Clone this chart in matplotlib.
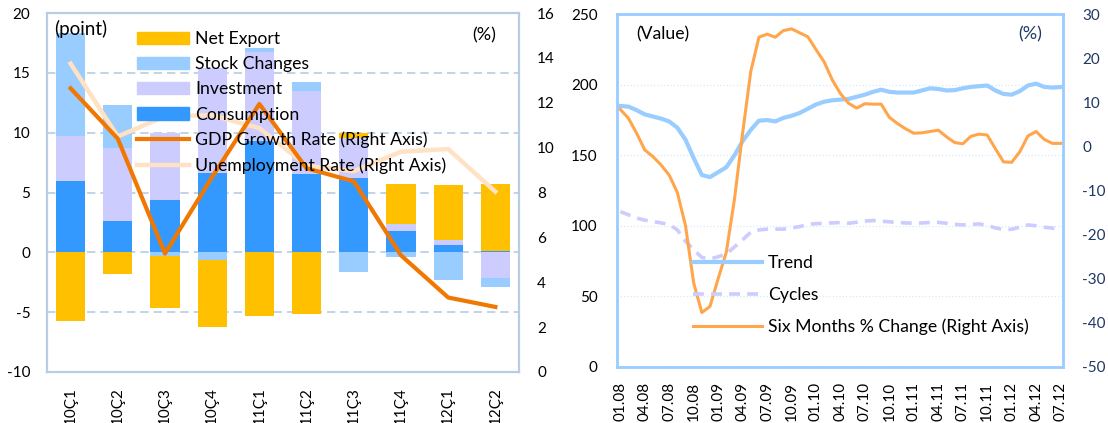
import numpy as np
import pandas as pd
import matplotlib
matplotlib.use('Agg')
import matplotlib.pyplot as plt
from matplotlib.patches import Patch
from matplotlib.lines import Line2D

plt.rcParams['font.family'] = ['Lato', 'DejaVu Sans']
plt.rcParams['axes.unicode_minus'] = False

# left panel: contributions to growth (points) and rates (%)
quarters = ['10Ç1', '10Ç2', '10Ç3', '10Ç4', '11Ç1', '11Ç2', '11Ç3', '11Ç4', '12Ç1', '12Ç2']
consumption = [6.0, 2.65, 4.4, 6.6, 9.3, 6.55, 6.2, 1.75, 0.6, 0.08]
investment = [3.7, 6.05, 5.6, 8.8, 7.45, 6.95, 3.4, 0.65, 0.45, -2.15]
stock_changes = [8.6, 3.6, -0.3, -0.6, 0.35, 0.75, -1.6, -0.4, -2.35, -0.75]
net_export = [-5.75, -1.85, -4.35, -5.6, -5.3, -5.15, 0.35, 3.35, 4.55, 5.65]
gdp_growth = [12.65, 10.4, 5.28, 8.7, 11.95, 9.08, 8.5, 5.2, 3.32, 2.9]
unemployment = [13.75, 10.5, 11.4, 11.45, 10.87, 9.2, 8.95, 9.82, 9.94, 8.04]

# right panel: monthly index, 01.08 - 07.12
months = pd.date_range('2008-01-01', '2012-07-01', freq='MS')
month_labels = [d.strftime('%m.%y') for d in months]
trend = [185, 184.5, 182, 179, 177.5, 176, 174, 169.5, 161, 148,
         136, 134.5, 138, 141.5, 150, 160, 168, 174.5, 175, 174,
         176.5, 178, 180, 183, 186, 188, 189, 189.5, 190, 191.5,
         193, 195, 196.5, 195, 194.5, 194.5, 194.5, 196, 197.5, 197,
         196, 196.2, 197.5, 198.5, 199, 199.5, 196, 193.5, 193, 195.5,
         199.5, 200.8, 198.5, 198, 198.4]
cycles = [110, 107.8, 105.5, 104, 103, 102, 101, 97, 89, 83,
          77.5, 76.5, 78, 80, 85, 90, 95.5, 97, 97.6, 97.6,
          97.6, 98.5, 99.4, 101, 101.5, 101.8, 102, 102.3, 101.8, 102.5,
          103.3, 103.7, 103.2, 102.8, 102.3, 102, 101.8, 102, 102.3, 102.4,
          101.8, 101, 100.6, 101, 101.3, 100.2, 98.5, 97.3, 97.5, 99,
          100.6, 100, 99, 98.3, 97.8]
six_month_change = [8.4, 6.4, 3, -0.8, -2.3, -4.2, -6.5, -10.5, -18, -31,
                    -37.7, -36.3, -30, -24, -12, 3, 17, 24.8, 25.5, 24.8,
                    26.3, 26.7, 25.8, 24.9, 22, 19.2, 15.1, 12, 9.8, 8.7,
                    9.7, 9.6, 9.6, 6.6, 5.2, 4, 3, 3.1, 3.4, 3.7,
                    2.2, 0.9, 0.6, 2.3, 2.8, 2.6, -0.5, -3.5, -3.6, -1.2,
                    2.4, 3.4, 1.6, 0.7, 0.7]

c_cons = '#3399FF'
c_inv = '#CCCCFF'
c_stock = '#99CCFF'
c_net = '#FFC000'
c_gdp = '#F07800'
c_unemp = '#FFE1C4'
c_trend = '#99CCFF'
c_cyc = '#CCCCFF'
c_six = '#FFA64D'
frame_l = '#B8CCE4'
navy = '#1F3864'

fig = plt.figure(figsize=(11.08, 4.23), dpi=100)

# ---------------- left panel ----------------
ax = fig.add_axes([0.0424, 0.1206, 0.4260, 0.8484])
x = np.arange(len(quarters))
pos = np.zeros(len(quarters))
neg = np.zeros(len(quarters))
for vals, col in [(consumption, c_cons), (investment, c_inv),
                  (stock_changes, c_stock), (net_export, c_net)]:
    v = np.array(vals)
    bottom = np.where(v >= 0, pos, neg)
    ax.bar(x, v, 0.62, bottom=bottom, color=col, zorder=2)
    pos = pos + np.where(v >= 0, v, 0)
    neg = neg + np.where(v < 0, v, 0)

ax.set_xlim(-0.5, 9.5)
ax.set_ylim(-10, 20)
ax.set_yticks(range(-10, 21, 5))
ax.set_xticks(x)
ax.set_xticklabels(quarters, rotation=90, fontsize=10)
ax.set_axisbelow(True)
ax.yaxis.grid(True, color=frame_l, linestyle=(0, (5, 3)), linewidth=1.2)
ax.tick_params(axis='both', length=0, labelsize=11)
ax.tick_params(axis='y', pad=12)
ax.tick_params(axis='x', pad=11)
for s in ax.spines.values():
    s.set_color(frame_l)
    s.set_linewidth(1.6)

ax2 = ax.twinx()
ax2.plot(x, unemployment, color=c_unemp, linewidth=3.2, zorder=3)
ax2.plot(x, gdp_growth, color=c_gdp, linewidth=3.0, zorder=4)
ax2.set_ylim(0, 16)
ax2.set_yticks(range(0, 17, 2))
ax2.tick_params(axis='y', length=0, labelsize=11, pad=13)
for s in ax2.spines.values():
    s.set_visible(False)

ax.text(0.016, 0.98, '(point)', transform=ax.transAxes, fontsize=13.5,
        va='top', ha='left')
ax.text(0.9, 0.96, '(%)', transform=ax.transAxes, fontsize=13,
        va='top', ha='left')

handles_l = [Patch(color=c_net), Patch(color=c_stock), Patch(color=c_inv),
             Patch(color=c_cons), Line2D([], [], color=c_gdp, linewidth=3.0),
             Line2D([], [], color=c_unemp, linewidth=3.2)]
labels_l = ['Net Export', 'Stock Changes', 'Investment', 'Consumption',
            'GDP Growth Rate (Right Axis)', 'Unemployment Rate (Right Axis)']
ax2.legend(handles_l, labels_l, loc='upper left', frameon=False, fontsize=12.7,
           bbox_to_anchor=(136.7 / 1108, 1 - 31 / 423),
           bbox_transform=fig.transFigure, borderpad=0, borderaxespad=0,
           handlelength=2.95, handletextpad=0.35, labelspacing=0.52)

# ---------------- right panel ----------------
bx = fig.add_axes([0.5569, 0.1330, 0.4025, 0.8332])
t = np.arange(len(months))
bx.plot(t, trend, color=c_trend, linewidth=3.0, zorder=3)
bx.plot(t, cycles, color=c_cyc, linewidth=2.6, linestyle=(0, (3, 2)), zorder=3)
bx.set_ylim(0, 250)
bx.set_yticks(range(0, 251, 50))
bx.set_xlim(-0.4, 54.3)
bx.set_xticks(t[::3])
bx.set_xticklabels(month_labels[::3], rotation=90, fontsize=10)
bx.yaxis.grid(True, color='#D6EAF8', linestyle=':', linewidth=0.9)
bx.set_axisbelow(True)
bx.tick_params(axis='both', length=0, labelsize=11)
bx.tick_params(axis='y', pad=14)
bx.tick_params(axis='x', pad=11)
for s in bx.spines.values():
    s.set_color(c_trend)
    s.set_linewidth(2.0)

bx2 = bx.twinx()
bx2.plot(t, six_month_change, color=c_six, linewidth=2.2, zorder=4)
bx2.set_ylim(-50, 30)
bx2.set_yticks(range(-50, 31, 10))
bx2.tick_params(axis='y', length=0, labelsize=11, pad=14, labelcolor=navy)
for s in bx2.spines.values():
    s.set_visible(False)

bx.text(0.043, 0.965, '(Value)', transform=bx.transAxes, fontsize=12.7,
        va='top', ha='left')
bx.text(0.9, 0.965, '(%)', transform=bx.transAxes, fontsize=13,
        va='top', ha='left', color=navy)

handles_r = [Line2D([], [], color=c_trend, linewidth=3.0),
             Line2D([], [], color=c_cyc, linewidth=2.6, linestyle=(0, (3, 2))),
             Line2D([], [], color=c_six, linewidth=2.2)]
labels_r = ['Trend', 'Cycles', 'Six Months % Change (Right Axis)']
bx2.legend(handles_r, labels_r, loc='upper left', frameon=False, fontsize=12.7,
           bbox_to_anchor=(693 / 1108, 1 - 255 / 423),
           bbox_transform=fig.transFigure, borderpad=0, borderaxespad=0,
           handlelength=3.9, handletextpad=0.35, labelspacing=0.9)

fig.savefig('out.png', dpi=100)
